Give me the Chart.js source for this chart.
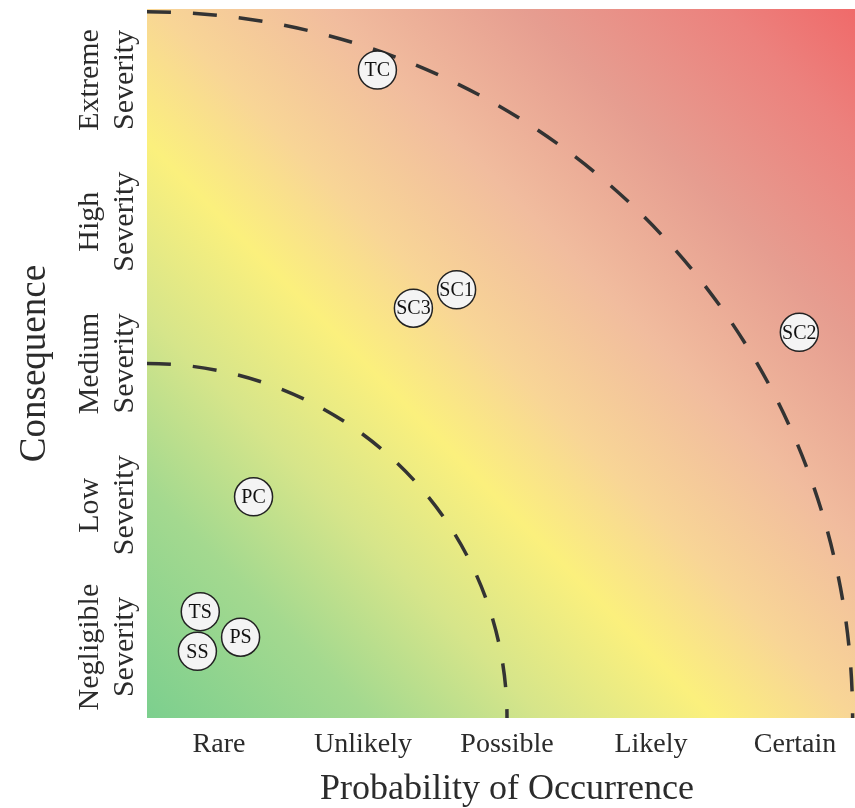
<!DOCTYPE html>
<html>
<head>
<meta charset="utf-8">
<title>Risk matrix</title>
<script src="https://cdn.jsdelivr.net/npm/chart.js@4.4.1/dist/chart.umd.min.js"></script>
<style>
  html, body { margin: 0; padding: 0; background: #ffffff; overflow: hidden; }
  #wrap { width: 870px; height: 808px; }
</style>
</head>
<body>
<div id="wrap"><canvas id="risk" width="870" height="808"></canvas></div>
<script>
// Axis categories
const probabilityLevels = ['Rare', 'Unlikely', 'Possible', 'Likely', 'Certain'];
const consequenceLevels = [
  ['Negligible', 'Severity'],
  ['Low', 'Severity'],
  ['Medium', 'Severity'],
  ['High', 'Severity'],
  ['Extreme', 'Severity']
];
const levelCentres = [0.5, 1.5, 2.5, 3.5, 4.5];

// Assessed hazards (probability, consequence) on a 0–5 scale
const hazardNames       = ['TC',  'SC1', 'SC3', 'SC2', 'PC',  'TS',  'SS',  'PS'];
const hazardProbability = [1.60,  2.15,  1.85,  4.53,  0.74,  0.37,  0.35,  0.65];
const hazardConsequence = [4.57,  3.02,  2.89,  2.72,  1.56,  0.75,  0.47,  0.57];

// Zone boundaries: quarter ellipses around the origin
const zoneRadiusX = [2.5, 4.9];
const zoneRadiusY = [2.5, 4.98];

const SERIF = '"Liberation Serif", "Times New Roman", Times, serif';

// Diagonal green → yellow → red field behind the points
const riskBackground = {
  id: 'riskBackground',
  beforeDatasetsDraw(chart) {
    const { ctx, chartArea: a } = chart;
    const g = ctx.createLinearGradient(a.left, a.bottom, a.right, a.top);
    g.addColorStop(0.00, '#7ccf8e');
    g.addColorStop(0.16, '#a4d98f');
    g.addColorStop(0.28, '#d6e58a');
    g.addColorStop(0.40, '#fbf07d');
    g.addColorStop(0.50, '#f8d596');
    g.addColorStop(0.62, '#f1bc9e');
    g.addColorStop(0.76, '#e69d90');
    g.addColorStop(0.90, '#ec817d');
    g.addColorStop(1.00, '#f06868');
    ctx.save();
    ctx.fillStyle = g;
    ctx.fillRect(a.left, a.top, a.right - a.left, a.bottom - a.top);
    ctx.restore();
  }
};

// Dashed quarter-ellipse boundaries between the risk zones
const zoneBoundaries = {
  id: 'zoneBoundaries',
  beforeDatasetsDraw(chart) {
    const { ctx, chartArea: a, scales: { x, y } } = chart;
    const cx = x.getPixelForValue(0);
    const cy = y.getPixelForValue(0);
    ctx.save();
    ctx.beginPath();
    ctx.rect(a.left, a.top, a.right - a.left, a.bottom - a.top);
    ctx.clip();
    ctx.strokeStyle = '#333333';
    ctx.lineWidth = 3.5;
    ctx.setLineDash([24, 22]);
    zoneRadiusX.forEach((rx, i) => {
      const px = x.getPixelForValue(rx) - cx;
      const py = cy - y.getPixelForValue(zoneRadiusY[i]);
      ctx.beginPath();
      ctx.ellipse(cx, cy, px, py, 0, -Math.PI / 2, 0);
      ctx.stroke();
    });
    ctx.restore();
  }
};

// Hazard codes written inside each marker
const hazardLabels = {
  id: 'hazardLabels',
  afterDatasetsDraw(chart) {
    const { ctx } = chart;
    const meta = chart.getDatasetMeta(0);
    ctx.save();
    ctx.font = '20px ' + SERIF;
    ctx.fillStyle = '#111111';
    ctx.textAlign = 'center';
    ctx.textBaseline = 'middle';
    meta.data.forEach((pt, i) => ctx.fillText(hazardNames[i], pt.x, pt.y + 1));
    ctx.restore();
  }
};

// Keep the plot edges fixed regardless of label overhang
const clearPadding = s => {
  s.paddingTop = 0; s.paddingBottom = 0; s.paddingLeft = 0; s.paddingRight = 0;
};

new Chart(document.getElementById('risk'), {
  type: 'scatter',
  data: {
    datasets: [{
      label: 'Hazards',
      data: hazardNames.map((n, i) => ({ x: hazardProbability[i], y: hazardConsequence[i] })),
      pointRadius: 19,
      pointHoverRadius: 19,
      backgroundColor: '#f4f4f4',
      borderColor: '#222222',
      borderWidth: 1.5
    }]
  },
  options: {
    responsive: false,
    animation: false,
    devicePixelRatio: 1,
    events: [],
    layout: { autoPadding: false, padding: { top: 9, right: 3, left: 0, bottom: 0 } },
    plugins: { legend: { display: false }, tooltip: { enabled: false } },
    scales: {
      x: {
        type: 'linear',
        min: 0,
        max: 5,
        grid: { display: false, drawTicks: false, tickLength: 0 },
        border: { display: false },
        afterBuildTicks: s => { s.ticks = levelCentres.map(v => ({ value: v })); },
        afterFit: s => { s.height = 90; clearPadding(s); },
        ticks: {
          autoSkip: false,
          minRotation: 0,
          maxRotation: 0,
          padding: 10,
          color: '#2b2b2b',
          font: { family: SERIF, size: 28, lineHeight: 1.2 },
          callback: (v, i) => probabilityLevels[i]
        },
        title: {
          display: true,
          text: 'Probability of Occurrence',
          color: '#2b2b2b',
          font: { family: SERIF, size: 36, lineHeight: 1 },
          padding: { top: 0, bottom: 0 }
        }
      },
      y: {
        type: 'linear',
        min: 0,
        max: 5,
        grid: { display: false, drawTicks: false, tickLength: 0 },
        border: { display: false },
        afterBuildTicks: s => { s.ticks = levelCentres.map(v => ({ value: v })); },
        afterFit: s => { s.width = 147; clearPadding(s); },
        ticks: {
          autoSkip: false,
          minRotation: 90,
          maxRotation: 90,
          crossAlign: 'center',
          padding: -24,
          color: '#2b2b2b',
          font: { family: SERIF, size: 30, lineHeight: 1.17 },
          callback: (v, i) => consequenceLevels[i]
        },
        title: {
          display: true,
          text: 'Consequence',
          color: '#2b2b2b',
          font: { family: SERIF, size: 37, lineHeight: 1 },
          padding: { top: 17, bottom: 0 }
        }
      }
    }
  },
  plugins: [riskBackground, zoneBoundaries, hazardLabels]
});
</script>
</body>
</html>
